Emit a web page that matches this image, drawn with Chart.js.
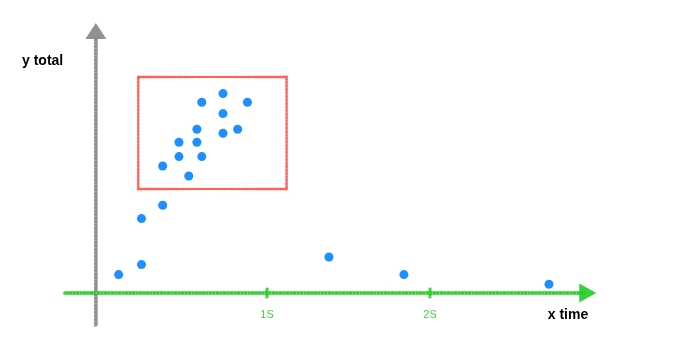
<!DOCTYPE html>
<html>
<head>
<meta charset="utf-8">
<style>
  html, body { margin: 0; padding: 0; background: #fff; }
  #wrap { width: 675px; height: 344px; }
</style>
<script src="https://cdn.jsdelivr.net/npm/chart.js@4"></script>
</head>
<body>
<div id="wrap"><canvas id="myChart"></canvas></div>
<script>
// time in seconds, total in arbitrary units
const timeValues = [0.09, 0.23, 0.23, 0.36, 0.36, 0.52, 0.46, 0.46, 0.57, 0.60,
  0.57, 0.60, 0.73, 0.73, 0.73, 0.82, 0.88, 1.38, 1.84, 2.73];
const totalValues = [9.2, 14.2, 37.2, 43.9, 63.5, 58.5, 68.2, 75.4, 75.4, 68.2,
  81.9, 95.4, 99.7, 89.7, 79.9, 81.9, 95.4, 18, 9.2, 4.4];
const tickValues = [1, 2];
const tickLabels = ['1S', '2S'];
const highlightX = [0.21, 1.12];
const highlightY = [52, 108];

const points = timeValues.map(function (t, i) {
  return { x: t, y: totalValues[i] };
});

// draws a line a few times with small offsets so it looks pencil drawn
function sketchLine(c, x1, y1, x2, y2, color, width) {
  const offs = [[0, 0, 0.85], [0.6, -0.5, 0.5], [-0.5, 0.6, 0.5]];
  c.save();
  c.strokeStyle = color;
  c.lineCap = 'round';
  offs.forEach(function (o) {
    c.globalAlpha = o[2];
    c.lineWidth = width;
    c.beginPath();
    c.moveTo(x1 + o[0], y1 + o[1]);
    c.lineTo(x2 + o[1], y2 + o[0]);
    c.stroke();
  });
  // grainy overlay
  c.globalAlpha = 0.35;
  c.strokeStyle = '#fff';
  c.lineWidth = width * 0.6;
  c.lineCap = 'butt';
  c.setLineDash([1, 2, 1, 3]);
  c.beginPath();
  c.moveTo(x1, y1);
  c.lineTo(x2, y2);
  c.stroke();
  c.restore();
}

function triangle(c, pts, color) {
  c.save();
  c.fillStyle = color;
  c.globalAlpha = 0.9;
  c.beginPath();
  c.moveTo(pts[0][0], pts[0][1]);
  c.lineTo(pts[1][0], pts[1][1]);
  c.lineTo(pts[2][0], pts[2][1]);
  c.closePath();
  c.fill();
  c.restore();
}

const sketchAxes = {
  id: 'sketchAxes',
  beforeDatasetsDraw: function (chart) {
    const c = chart.ctx;
    const xs = chart.scales.x;
    const ys = chart.scales.y;
    const gray = '#858585';
    const green = '#22cc22';
    const red = '#ff5248';

    // highlight box
    const bx1 = xs.getPixelForValue(highlightX[0]);
    const bx2 = xs.getPixelForValue(highlightX[1]);
    const by1 = ys.getPixelForValue(highlightY[1]);
    const by2 = ys.getPixelForValue(highlightY[0]);
    sketchLine(c, bx1, by1, bx2, by1, red, 1.8);
    sketchLine(c, bx2, by1, bx2, by2, red, 1.8);
    sketchLine(c, bx2, by2, bx1, by2, red, 1.8);
    sketchLine(c, bx1, by2, bx1, by1, red, 1.8);

    // y axis
    const ax = xs.getPixelForValue(-0.05);
    const ay = ys.getPixelForValue(0);
    sketchLine(c, ax, ys.getPixelForValue(-16), ax, ys.getPixelForValue(127), gray, 3);
    const yTip = ys.getPixelForValue(135);
    triangle(c, [[ax, yTip], [ax - 10.5, yTip + 16], [ax + 10.5, yTip + 16]], gray);

    // x axis
    const xEnd = xs.getPixelForValue(3.02);
    sketchLine(c, xs.getPixelForValue(-0.24), ay, xEnd - 12, ay, green, 3);
    triangle(c, [[xEnd, ay], [xEnd - 17, ay - 9.5], [xEnd - 17, ay + 9.5]], green);

    // ticks and tick labels
    c.save();
    c.font = '11px "Liberation Sans", Arial, sans-serif';
    c.fillStyle = '#48d048';
    c.textAlign = 'center';
    c.textBaseline = 'middle';
    tickValues.forEach(function (v, i) {
      const tx = xs.getPixelForValue(v);
      sketchLine(c, tx, ay - 4, tx, ay + 4, green, 2.5);
      c.fillText(tickLabels[i], tx, ay + 22);
    });

    // axis titles
    c.fillStyle = '#000';
    c.font = 'bold 14px "Liberation Sans", Arial, sans-serif';
    c.textAlign = 'left';
    c.fillText('y total', 22, 61);
    c.textAlign = 'center';
    c.fillText('x time', 568, ay + 22);
    c.restore();
  }
};

document.addEventListener('DOMContentLoaded', function () {
  const ctx = document.getElementById('myChart');

  new Chart(ctx, {
    type: 'scatter',
    data: {
      datasets: [{
        label: 'total',
        data: points,
        backgroundColor: '#1e8fff',
        borderWidth: 0,
        pointRadius: 4.5,
        pointHoverRadius: 4.5
      }]
    },
    plugins: [sketchAxes],
    options: {
      responsive: true,
      maintainAspectRatio: false,
      animation: false,
      layout: {
        padding: { left: 63.25, right: 73.85, top: 21, bottom: 17 }
      },
      plugins: {
        legend: { display: false },
        tooltip: { enabled: false }
      },
      scales: {
        x: { type: 'linear', min: -0.25, max: 3.05, display: false },
        y: { type: 'linear', min: -17, max: 136, display: false }
      }
    }
  });
});
</script>
</body>
</html>
